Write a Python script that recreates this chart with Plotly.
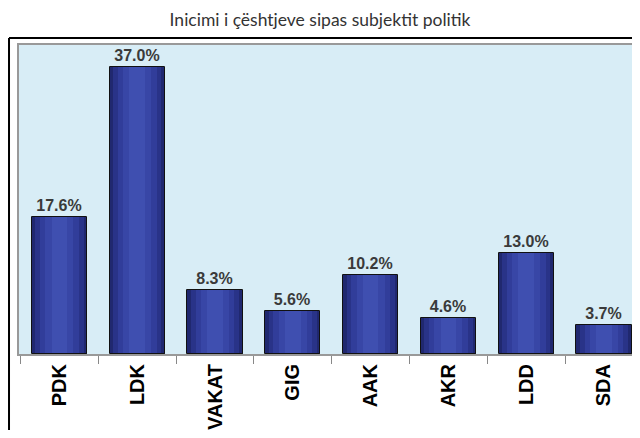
import plotly.graph_objects as go

# data
parties = ["PDK", "LDK", "VAKAT", "GIG", "AAK", "AKR", "LDD", "SDA"]
shares = [17.6, 37.0, 8.3, 5.6, 10.2, 4.6, 13.0, 3.7]
labels = [f"<b>{v:.1f}%</b>" for v in shares]

# fake horizontal gradient on the bars: stacked narrower bars, lighter toward the centre
layers = [(0.71, "#20286f"), (0.62, "#293388"), (0.50, "#313d9a"),
          (0.36, "#3846a6"), (0.20, "#3f4fb0")]

fig = go.Figure()
for w, c in layers:
    fig.add_trace(go.Bar(x=parties, y=shares, width=w, marker_color=c,
                         marker_line_width=0, hoverinfo="skip", showlegend=False))

# outline + value labels on top
fig.add_trace(go.Bar(x=parties, y=shares, width=0.71, text=labels,
                     textposition="outside", cliponaxis=False,
                     textfont=dict(family="Liberation Sans, Arial", size=16, color="#3a3a3a"),
                     marker=dict(color="rgba(0,0,0,0)", line=dict(color="#111111", width=1)),
                     showlegend=False))

# outer black frame round the chart (left and top)
fig.add_shape(type="line", xref="paper", yref="paper", x0=-0.0163, x1=-0.0163,
              y0=1.0227, y1=-0.35, line=dict(color="black", width=2))
fig.add_shape(type="line", xref="paper", yref="paper", x0=-0.0163, x1=1.05,
              y0=1.0227, y1=1.0227, line=dict(color="black", width=2))

# page body keeps its 8px margin, so the figure is sized to fit the window exactly
fig.update_layout(
    width=624, height=422,
    margin=dict(l=11, r=0, t=37, b=76),
    paper_bgcolor="white",
    plot_bgcolor="#d8edf6",
    barmode="overlay",
    bargap=0,
    title=dict(text="Inicimi i çështjeve sipas subjektit politik",
               x=0.5, xanchor="center", y=0.9716, yanchor="middle",
               font=dict(family="Lato, Open Sans, sans-serif", size=17.5, color="#333333")),
)
fig.update_xaxes(range=[-0.52, 7.36], showgrid=False, tickson="boundaries",
                 ticks="outside", ticklen=8, tickcolor="#888888", tickwidth=1,
                 showline=True, linecolor="#999999", linewidth=2, mirror=True,
                 tickangle=-90,
                 tickfont=dict(family="Liberation Sans, Arial", size=20, color="black"),
                 ticktext=[f"<b>{p}</b>" for p in parties], tickvals=parties)
fig.update_yaxes(range=[0, 39.8], showgrid=False, showticklabels=False,
                 showline=True, linecolor="#999999", linewidth=2, zeroline=False)

fig.write_html("out.html")
